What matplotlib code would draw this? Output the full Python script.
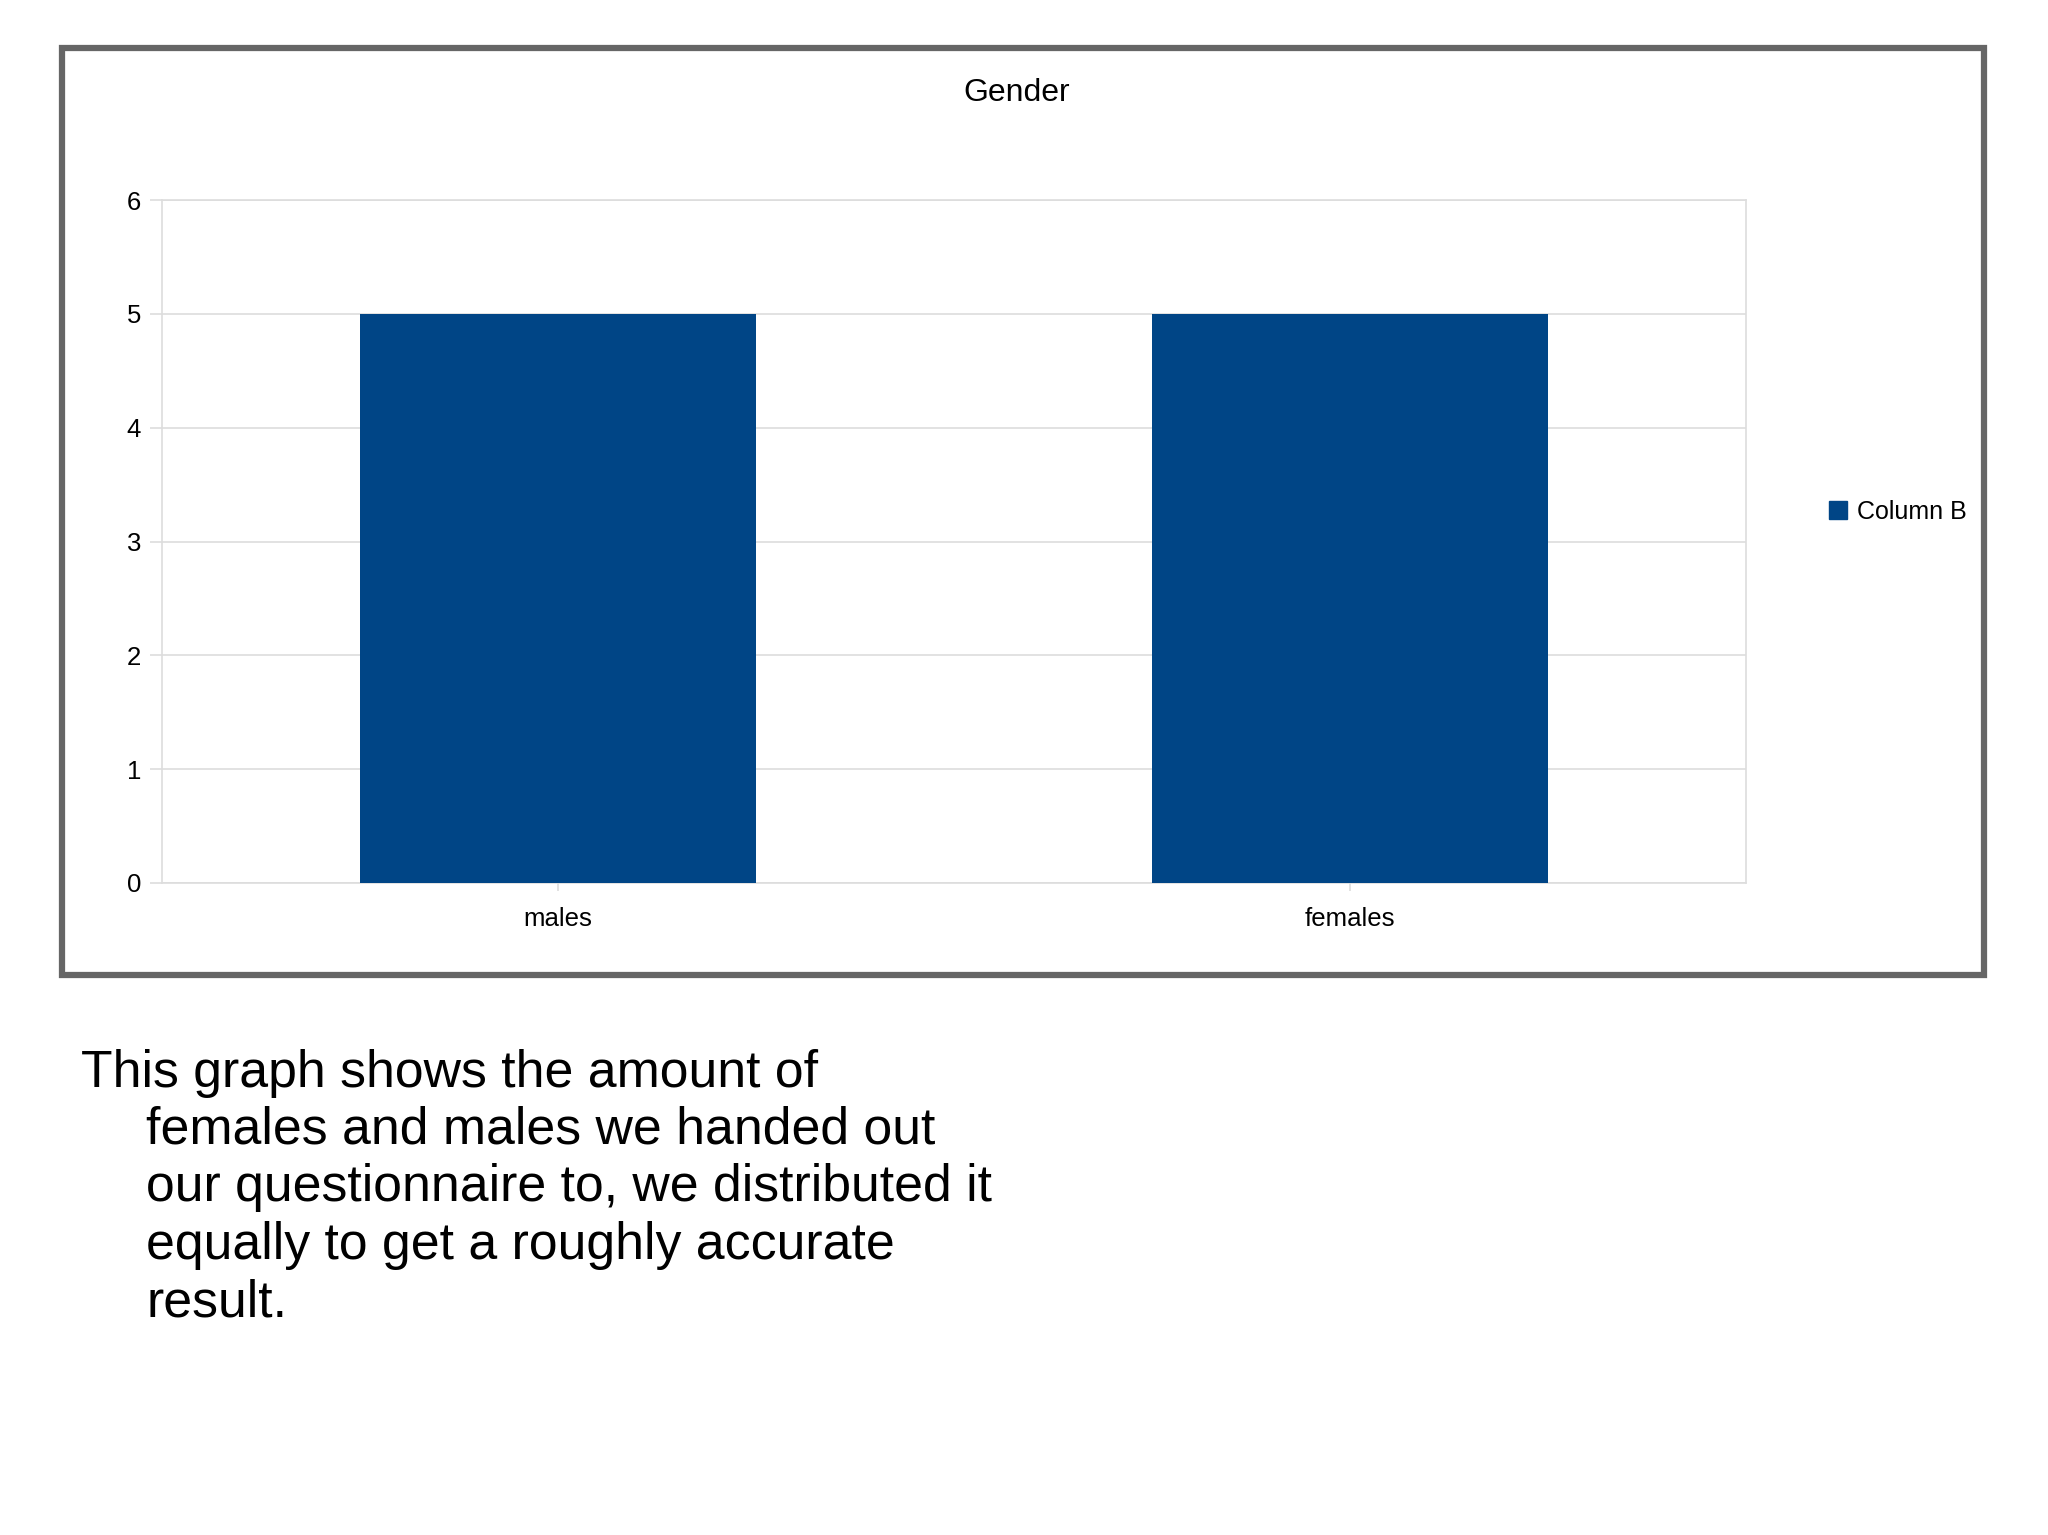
import matplotlib.pyplot as plt
from matplotlib.patches import Rectangle, Patch

plt.rcParams['font.family'] = ['Liberation Sans', 'DejaVu Sans']

categories = ['males', 'females']
counts = [5, 5]
series_name = 'Column B'
title = 'Gender'
caption = ('This graph shows the amount of\n'
           'females and males we handed out\n'
           'our questionnaire to, we distributed it\n'
           'equally to get a roughly accurate\n'
           'result.')

bar_color = '#004586'
grid_color = '#dddddd'

W, H = 2048, 1535
fig = plt.figure(figsize=(W / 100, H / 100), dpi=100)

# chart frame
fig.patches.append(Rectangle((62 / W, 1 - 975 / H), (1984 - 62) / W, (975 - 48) / H,
                             transform=fig.transFigure, fill=False,
                             edgecolor='#666666', linewidth=4.5))

ax = fig.add_axes([162 / W, 1 - 883 / H, (1746 - 162) / W, (883 - 200) / H])
x = range(len(categories))
ax.bar(x, counts, width=0.5, color=bar_color, zorder=3)
ax.set_xlim(-0.5, len(categories) - 0.5)
ax.set_ylim(0, 6)
ax.set_yticks(range(0, 7))
ax.set_xticks(list(x))
ax.set_xticklabels(categories)
ax.grid(axis='y', color=grid_color, linewidth=1.2, zorder=0)
for s in ax.spines.values():
    s.set_color(grid_color)
    s.set_linewidth(1.2)
ax.tick_params(axis='y', length=9, width=1.2, color=grid_color, pad=6, labelsize=18.5)
ax.tick_params(axis='x', length=6, width=1.2, color=grid_color, pad=11, labelsize=18.5)

fig.text(1017 / W, 1 - 93 / H, title, ha='center', va='center', fontsize=23)

fig.legend(handles=[Patch(facecolor=bar_color, edgecolor=bar_color)], labels=[series_name],
           loc='center left', bbox_to_anchor=(1806 / W, 1 - 512 / H), frameon=False,
           fontsize=18, handlelength=0.75, handleheight=0.75, handletextpad=0.4)

lines = caption.split('\n')
for i, line in enumerate(lines):
    xpos = 81 if i == 0 else 146
    fig.text(xpos / W, 1 - (1073 + i * 57.5) / H, line, ha='left', va='center', fontsize=37.3)

fig.savefig('out.png', dpi=100)
